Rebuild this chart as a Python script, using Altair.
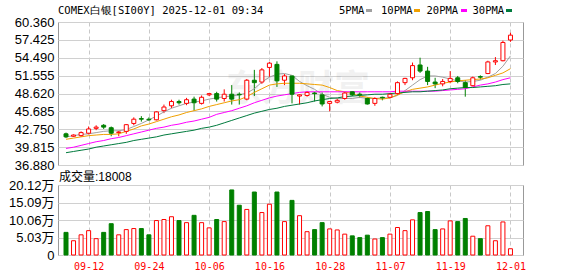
import altair as alt
import pandas as pd

dates = ["09-09","09-10","09-11","09-12","09-15","09-16","09-17","09-18","09-19","09-22",
         "09-23","09-24","09-25","09-26","09-29","09-30","10-01","10-02","10-03","10-06",
         "10-07","10-08","10-09","10-10","10-13","10-14","10-15","10-16","10-17","10-20",
         "10-21","10-22","10-23","10-24","10-27","10-28","10-29","10-30","10-31","11-03",
         "11-04","11-05","11-06","11-07","11-10","11-11","11-12","11-13","11-14","11-17",
         "11-18","11-19","11-20","11-21","11-24","11-25","11-26","11-27","11-28","12-01"]

opens = [42.0,41.6,41.7,42.1,42.9,43.4,43.0,42.2,42.4,43.7,
         44.5,44.4,44.3,45.8,46.6,47.3,47.0,47.7,47.0,48.4,
         48.6,47.8,48.5,48.5,47.7,50.8,50.5,52.9,53.4,50.8,
         51.5,48.2,48.3,48.7,48.4,47.0,47.2,47.8,48.9,48.5,
         47.8,47.0,48.0,48.0,48.6,50.4,51.2,53.3,52.3,50.5,
         50.2,50.6,51.2,50.4,49.9,51.4,51.9,53.8,54.0,57.4]
highs = [42.2,41.9,42.4,43.2,43.4,43.6,43.2,42.5,43.6,44.7,
         44.9,44.7,45.7,46.8,47.6,47.6,47.9,48.1,48.3,48.7,
         48.9,49.3,50.0,48.8,51.0,52.5,52.8,53.8,53.9,51.8,
         51.5,48.5,49.0,48.9,48.8,47.4,47.8,48.9,49.0,48.8,
         48.0,48.0,48.1,48.7,50.6,51.2,53.7,54.5,53.0,51.2,
         51.0,52.3,51.5,50.8,51.4,51.6,54.0,54.6,57.3,58.6]
lows = [41.3,41.5,41.5,41.9,42.6,42.8,41.6,41.6,42.0,43.4,
        44.0,44.1,44.2,45.4,46.2,46.8,46.7,45.8,46.8,48.2,
        47.3,47.3,46.8,46.8,47.5,48.2,50.2,51.3,49.7,50.0,
        47.0,46.8,48.1,47.3,46.5,45.7,47.0,47.6,48.2,47.9,
        46.8,46.6,47.5,47.8,48.4,50.0,50.8,52.0,50.0,49.5,
        49.8,50.3,50.3,48.1,49.8,50.9,51.8,53.3,53.9,57.1]
closes = [41.5,41.8,42.2,42.8,43.1,43.1,42.1,42.3,43.5,44.4,
          44.4,44.3,45.6,46.4,47.3,47.1,47.6,47.1,48.0,48.6,
          47.7,48.5,47.7,48.4,50.8,50.4,52.5,53.6,50.7,51.5,
          48.5,48.4,48.8,48.6,46.9,47.3,47.5,48.7,48.4,48.4,
          46.9,47.8,47.9,48.5,50.4,51.1,53.2,52.3,50.6,50.2,
          50.6,51.1,50.6,49.6,51.2,51.3,53.8,54.0,57.0,58.2]
# volume in 万
volumes = [6.5,4.1,5.8,7.0,4.7,6.5,9.0,5.8,7.3,7.6,
           7.6,5.8,9.9,10.2,11.0,9.9,9.3,11.4,9.3,7.8,
           10.2,9.6,18.7,14.3,13.1,18.1,12.2,14.6,18.1,9.6,
           15.7,11.3,6.7,7.3,9.3,7.5,7.2,6.0,5.5,5.0,
           5.7,4.6,5.0,6.0,7.9,7.0,10.1,12.2,12.5,7.3,
           7.5,9.8,9.6,10.5,5.4,4.7,8.4,4.1,9.5,1.8008]

ma5 = [41.5,41.7,41.9,42.0,42.2,42.4,42.5,42.5,42.7,43.2,
       43.7,44.3,44.9,45.6,46.2,46.6,47.0,47.2,47.4,47.7,
       47.9,48.1,48.2,48.4,48.7,49.4,50.5,51.3,51.8,51.9,
       51.6,50.6,49.9,49.3,48.5,48.0,47.8,47.8,47.8,48.0,
       47.8,47.8,47.9,47.9,48.3,49.1,50.0,50.9,51.5,51.5,
       51.3,51.0,50.7,50.5,50.6,50.8,51.3,51.9,53.1,54.8]
ma10 = [41.1,41.3,41.5,41.7,41.8,41.9,41.9,42.0,42.4,42.8,
        43.3,43.6,44.0,44.4,44.8,45.1,45.5,45.8,46.1,46.5,
        46.8,47.1,47.4,47.6,48.1,48.8,49.4,50.0,50.2,50.3,
        50.3,50.3,50.2,50.1,50.0,49.6,49.1,48.9,48.6,48.2,
        48.0,47.8,47.7,47.9,48.4,48.9,49.3,49.5,49.7,50.0,
        50.3,50.5,50.7,50.8,50.9,51.0,51.2,51.6,52.0,52.7]
ma20 = [39.6,39.8,40.1,40.4,40.7,40.9,41.2,41.4,41.7,42.0,
        42.3,42.6,42.9,43.1,43.4,43.6,43.9,44.1,44.4,44.7,
        45.2,45.5,45.8,46.2,46.6,47.1,47.5,47.9,48.2,48.4,
        48.6,48.8,48.9,48.9,48.9,48.9,48.9,48.9,48.9,48.9,
        48.9,48.9,48.9,48.9,49.0,49.0,49.0,49.0,49.0,49.0,
        49.1,49.2,49.3,49.4,49.7,50.0,50.2,50.5,50.9,51.2]
ma30 = [38.9,39.1,39.3,39.5,39.8,40.0,40.2,40.4,40.6,40.9,
        41.1,41.3,41.5,41.8,42.0,42.2,42.4,42.6,42.9,43.1,
        43.4,43.8,44.2,44.6,45.0,45.4,45.7,46.0,46.2,46.5,
        46.7,46.9,47.1,47.4,47.6,47.8,47.9,48.1,48.2,48.3,
        48.4,48.5,48.5,48.6,48.7,48.8,48.9,48.9,49.0,49.1,
        49.2,49.4,49.5,49.6,49.6,49.7,49.8,49.9,50.1,50.2]

price_ticks = [36.880, 39.815, 42.750, 45.685, 48.620, 51.555, 54.490, 57.425, 60.360]
vol_ticks = [0, 5.03, 10.06, 15.09, 20.12]
date_ticks = [4, 12, 20, 28, 36, 44, 52, 60]
ma_names = ["5PMA", "10PMA", "20PMA", "30PMA"]
ma_colors = ["#a0a0a0", "#f0a000", "#ff00ff", "#007a3d"]

RED = "#ff0000"
GREEN = "#008000"

df = pd.DataFrame({"idx": list(range(1, len(dates) + 1)), "date": dates,
                   "open": opens, "high": highs, "low": lows, "close": closes,
                   "vol": volumes})
df["dir"] = ["up" if c >= o else "down" for o, c in zip(opens, closes)]

ma_df = pd.DataFrame({"idx": list(range(1, len(dates) + 1)),
                      "5PMA": ma5, "10PMA": ma10, "20PMA": ma20, "30PMA": ma30})
ma_long = ma_df.melt("idx", var_name="series", value_name="ma")

W = 465
H1 = 143
H2 = 70

x_scale = alt.Scale(domain=[0.6, 61.0], nice=False, zero=False)
grid_x = dict(grid=True, gridDash=[4, 3], gridColor="#c8c8c8", ticks=False,
              domain=False, title=None, values=date_ticks)
x_top = alt.X("idx:Q", scale=x_scale, axis=alt.Axis(labels=False, **grid_x))

label_expr = "[" + ",".join("'%s'" % d for d in dates) + "][datum.value - 1]"
x_bot = alt.X("idx:Q", scale=x_scale,
              axis=alt.Axis(labelExpr=label_expr, labelColor=RED, labelFont="DejaVu Sans Mono",
                            labelFontSize=10, labelPadding=6, **grid_x))

y_scale = alt.Scale(domain=[36.88, 60.36], nice=False, zero=False)
y_axis = alt.Axis(values=price_ticks, format=".3f", grid=True, gridColor="#d0d0d0",
                  ticks=False, domain=False, title=None, labelFont="Liberation Sans",
                  labelFontSize=13, labelColor="#000000", labelPadding=4)

dir_color = alt.Scale(domain=["up", "down"], range=[RED, GREEN])
dir_fill = alt.Scale(domain=["up", "down"], range=["#ffffff", GREEN])

def one(text):
    return pd.DataFrame({"t": [text]})

anchor = alt.Chart(one("")).mark_rect(opacity=0).encode(
    x=alt.value(-57), x2=alt.value(0), y=alt.value(-21), y2=alt.value(0))

watermark = alt.Chart(one("东方财富")).mark_text(
    font="Noto Sans CJK SC", fontSize=36, fontWeight="bold", color="#000000",
    opacity=0.05, align="center", baseline="middle").encode(
    x=alt.value(240), y=alt.value(68), text="t:N")

base = alt.Chart(df)

wicks = base.mark_rule(strokeWidth=1).encode(
    x=x_top,
    y=alt.Y("low:Q", scale=y_scale, axis=y_axis),
    y2="high:Q",
    stroke=alt.Stroke("dir:N", scale=dir_color, legend=None))

bodies = base.mark_bar(size=4, strokeWidth=1).encode(
    x=x_top,
    y=alt.Y("open:Q", scale=y_scale, axis=y_axis),
    y2="close:Q",
    fill=alt.Fill("dir:N", scale=dir_fill, legend=None),
    stroke=alt.Stroke("dir:N", scale=dir_color, legend=None))

lines = alt.Chart(ma_long).mark_line(strokeWidth=1).encode(
    x=x_top,
    y=alt.Y("ma:Q", scale=y_scale, axis=y_axis),
    color=alt.Color("series:N", scale=alt.Scale(domain=ma_names, range=ma_colors), legend=None),
    order=alt.Order("idx:Q"))

title = alt.Chart(one("COMEX白银[SI00Y] 2025-12-01 09:34")).mark_text(
    font="DejaVu Sans Mono", fontSize=10.5, align="left", baseline="middle", color="#000000").encode(
    x=alt.value(0), y=alt.value(-11), text="t:N")

legend_layers = []
leg_text_x = [281, 323, 368.5, 414.5]
leg_sw_x = [308, 356, 403, 448]
for name, col, tx, sx in zip(ma_names, ma_colors, leg_text_x, leg_sw_x):
    legend_layers.append(alt.Chart(one(name)).mark_text(
        font="DejaVu Sans Mono", fontSize=10.5, align="left", baseline="middle", color="#000000").encode(
        x=alt.value(tx), y=alt.value(-11), text="t:N"))
    legend_layers.append(alt.Chart(one(name)).mark_rule(strokeWidth=3, color=col).encode(
        x=alt.value(sx), x2=alt.value(sx + 6), y=alt.value(-11.5)))

top = alt.layer(anchor, watermark, wicks, lines, bodies, title, *legend_layers).properties(
    width=W, height=H1)

vol_scale = alt.Scale(domain=[0, 20.12], nice=False)
vol_axis = alt.Axis(values=vol_ticks, grid=True, gridColor="#d0d0d0", ticks=False, domain=False,
                    title=None, labelFont="Liberation Sans, Noto Sans CJK SC", labelFontSize=13,
                    labelColor="#000000", labelPadding=4,
                    labelExpr="datum.value == 0 ? '0' : format(datum.value, '.2f') + '万'")

vbars = alt.Chart(df).mark_bar(size=4, strokeWidth=1).encode(
    x=x_bot,
    y=alt.Y("vol:Q", scale=vol_scale, axis=vol_axis),
    fill=alt.Fill("dir:N", scale=dir_fill, legend=None),
    stroke=alt.Stroke("dir:N", scale=dir_color, legend=None))

vol_label = alt.Chart(one("成交量:18008")).mark_text(
    font="Liberation Sans, Noto Sans CJK SC", fontSize=12, align="left", baseline="middle",
    color="#000000").encode(x=alt.value(1), y=alt.value(-8), text="t:N")

bottom = alt.layer(vbars, vol_label).properties(width=W, height=H2)

chart = alt.vconcat(top, bottom, spacing=20, bounds="flush").resolve_scale(
    x="shared", color="independent", fill="independent", stroke="independent").properties(
    padding=0, background="#ffffff").configure_view(stroke="#999999", strokeWidth=1)

chart.save("out.html", embed_options={"renderer": "svg", "actions": False})
